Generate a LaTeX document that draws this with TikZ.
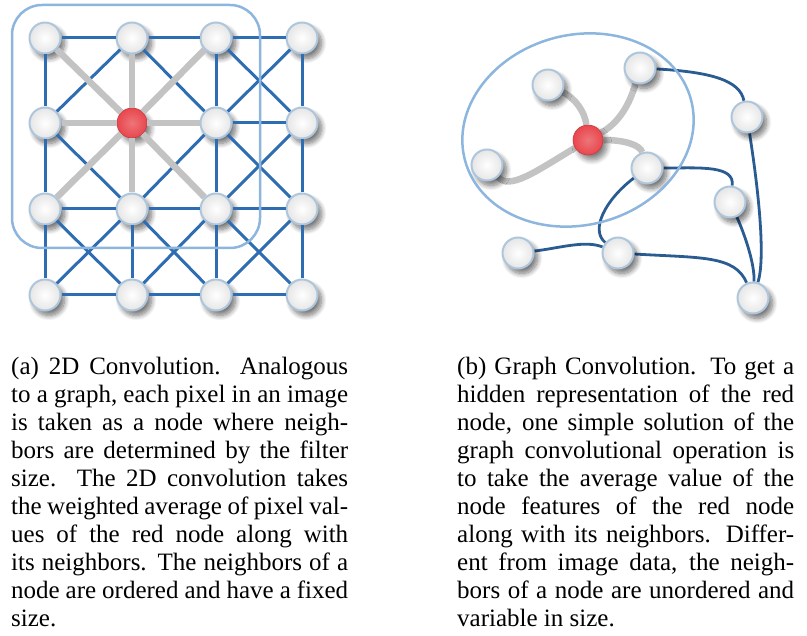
\documentclass[tikz,border=0pt]{standalone}
\usepackage{fontspec}
\setmainfont{Liberation Serif}
\usetikzlibrary{shadows.blur,backgrounds}
\definecolor{gridblue}{HTML}{2F6DB2}
\definecolor{darkblue}{HTML}{2A5C92}
\definecolor{edgegray}{HTML}{C3C3C3}
\definecolor{nodeborder}{HTML}{AEC6DC}
\definecolor{hilite}{HTML}{8DB6DE}
\definecolor{rednode}{HTML}{E8474D}
\tikzset{
  vert/.style={circle, minimum size=31pt, inner sep=0pt, draw=nodeborder, line width=2pt,
    inner color=white, outer color=black!10,
    blur shadow={shadow xshift=4pt, shadow yshift=-5pt, shadow blur steps=10, shadow opacity=55, shadow blur radius=5pt}},
  rvert/.style={circle, minimum size=30pt, inner sep=0pt, draw=rednode!85!black, line width=0.6pt,
    inner color=rednode!75!white, outer color=rednode,
    blur shadow={shadow xshift=4pt, shadow yshift=-5pt, shadow blur steps=10, shadow opacity=50, shadow blur radius=5pt}},
  bedge/.style={gridblue, line width=3pt},
  gedge/.style={edgegray, line width=6.5pt},
  dedge/.style={darkblue, line width=2.8pt},
  halo/.style={hilite, line width=2.5pt},
  captext/.style={anchor=base west, inner sep=0pt},
}
\newcommand{\jline}[1]{\makebox[337pt][s]{#1}}
\begin{document}
\begin{tikzpicture}[x=1pt,y=-1pt]
\useasboundingbox (0,0) rectangle (807,636);
% ---------- left: grid ----------
\node[vert] (g00) at (45,38) {};
\node[vert] (g10) at (132,38) {};
\node[vert] (g20) at (216,38) {};
\node[vert] (g30) at (302,38) {};
\node[vert] (g01) at (45,123) {};
\node[rvert] (g11) at (132,123) {};
\node[vert] (g21) at (216,123) {};
\node[vert] (g31) at (302,123) {};
\node[vert] (g02) at (45,209) {};
\node[vert] (g12) at (132,209) {};
\node[vert] (g22) at (216,209) {};
\node[vert] (g32) at (302,209) {};
\node[vert] (g03) at (45,295) {};
\node[vert] (g13) at (132,295) {};
\node[vert] (g23) at (216,295) {};
\node[vert] (g33) at (302,295) {};
\foreach \a/\b in {g00/g10, g10/g20, g20/g30, g21/g31,
  g02/g12, g12/g22, g22/g32, g03/g13, g13/g23, g23/g33,
  g00/g01, g01/g02, g02/g03, g12/g13,
  g20/g21, g21/g22, g22/g23, g30/g31, g31/g32, g32/g33,
  g10/g01, g10/g21, g20/g31, g30/g21,
  g01/g12, g21/g12, g21/g32, g31/g22,
  g02/g13, g12/g03, g12/g23, g22/g13, g22/g33, g32/g23}
  {\draw[bedge] (\a) -- (\b);}
\foreach \n in {g00,g10,g20,g01,g21,g02,g12,g22}
  {\draw[gedge] (g11) -- (\n);}
\draw[halo, rounded corners=30pt] (12,5) rectangle (260,248);
% ---------- right: graph ----------
\node[vert] (A) at (640,68) {};
\node[vert] (B) at (548,85) {};
\node[rvert] (R) at (588,140) {};
\node[vert] (C) at (487,165) {};
\node[vert] (D) at (647,168) {};
\node[vert] (E) at (747,117) {};
\node[vert] (F) at (730,202) {};
\node[vert] (G) at (518,253) {};
\node[vert] (H) at (618,253) {};
\node[vert] (I) at (753,298) {};
\begin{pgfonlayer}{background}
\draw[gedge] (B) .. controls (575,98) and (585,112) .. (R);
\draw[gedge] (A) .. controls (628,110) and (615,125) .. (R);
\draw[gedge] (C) .. controls (510,190) and (535,172) .. (R);
\draw[gedge] (R) .. controls (625,140) and (640,145) .. (D);
\draw[dedge] (A) .. controls (710,72) and (740,80) .. (E);
\draw[dedge] (E) .. controls (760,200) and (765,260) .. (I);
\draw[dedge] (D) .. controls (700,168) and (735,165) .. (F);
\draw[dedge] (F) .. controls (745,235) and (755,265) .. (I);
\draw[dedge] (D) .. controls (605,200) and (590,230) .. (H);
\draw[dedge] (G) .. controls (560,248) and (585,240) .. (H);
\draw[dedge] (H) .. controls (700,258) and (735,255) .. (I);
\end{pgfonlayer}
\draw[halo, rotate around={15:(578,130)}] (578,130) ellipse [x radius=117, y radius=95];
% ---------- captions ----------
\node[captext] (capa) at (11,375) {\parbox[t]{337pt}{\fontsize{25}{28}\selectfont
\jline{(a) 2D Convolution. Analogous}\\
\jline{to a graph, each pixel in an image}\\
\jline{is taken as a node where neigh-}\\
\jline{bors are determined by the filter}\\
\jline{size. The 2D convolution takes}\\
\jline{the weighted average of pixel val-}\\
\jline{ues of the red node along with}\\
\jline{its neighbors. The neighbors of a}\\
\jline{node are ordered and have a fixed}\\
size.}};
\node[captext] (capb) at (457,375) {\parbox[t]{337pt}{\fontsize{25}{28}\selectfont
\jline{(b) Graph Convolution. To get a}\\
\jline{hidden representation of the red}\\
\jline{node, one simple solution of the}\\
\jline{graph convolutional operation is}\\
\jline{to take the average value of the}\\
\jline{node features of the red node}\\
\jline{along with its neighbors. Differ-}\\
\jline{ent from image data, the neigh-}\\
\jline{bors of a node are unordered and}\\
variable in size.}};
\end{tikzpicture}
\end{document}
